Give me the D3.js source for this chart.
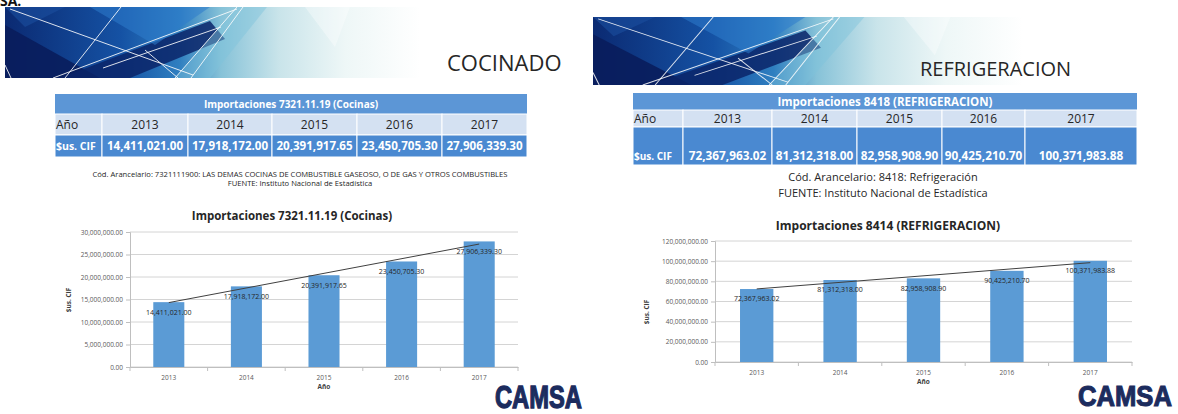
<!DOCTYPE html>
<html>
<head>
<meta charset="utf-8">
<script src="https://cdn.jsdelivr.net/npm/d3@7"></script>
<style>
  body { margin: 0; background: #fff; }
  svg { display: block; font-family: 'Open Sans', sans-serif; }
</style>
</head>
<body>
<div class="chart"></div>
<script>
// Importaciones por año (Sus. CIF)
const YEARS = ['2013', '2014', '2015', '2016', '2017']
const COCINAS_CIF = [14411021.00, 17918172.00, 20391917.65, 23450705.30, 27906339.30]
const REFRIG_CIF = [72367963.02, 81312318.00, 82958908.90, 90425210.70, 100371983.88]
const COCINAS_TICKS = [0, 5000000, 10000000, 15000000, 20000000, 25000000, 30000000]
const REFRIG_TICKS = [0, 20000000, 40000000, 60000000, 80000000, 100000000, 120000000]

const fmt = d3.format(',.2f')

const SLIDES = [
  {
    id: 'coc',
    values: COCINAS_CIF,
    ticks: COCINAS_TICKS,
    section: 'COCINADO',
    tableTitle: 'Importaciones  7321.11.19 (Cocinas)',
    codes: ['Cód. Arancelario: 7321111900:  LAS DEMAS COCINAS DE COMBUSTIBLE GASEOSO, O DE GAS Y OTROS COMBUSTIBLES',
            'FUENTE: Instituto  Nacional de Estadística'],
    chartTitle: 'Importaciones 7321.11.19  (Cocinas)',
    banner: { x: 5, y: 7, w: 415, h: 71 },
    sectionPos: { x: 447, y: 71, size: 22 },
    cols: [55, 102, 188, 272, 357, 442, 527],
    rows: [94, 114, 135, 157],
    tableFont: { head: 10, year: 12, value: 11.6, label: 10.5, valueBottom: false },
    codePos: { cx: 300, y: [177, 186], size: 7.6 },
    titlePos: { cx: 292, y: 220, size: 11.5 },
    plot: { x0: 130, x1: 518, top: 232, bottom: 367 },
    yTitle: { x: 71, y: 300 },
    logo: { x: 495, y: 408, w: 87, sy: 1.3 }
  },
  {
    id: 'ref',
    values: REFRIG_CIF,
    ticks: REFRIG_TICKS,
    section: 'REFRIGERACION',
    tableTitle: 'Importaciones 8418 (REFRIGERACION)',
    codes: ['Cód. Arancelario: 8418: Refrigeración',
            'FUENTE: Instituto  Nacional de Estadística'],
    chartTitle: 'Importaciones 8414 (REFRIGERACION)',
    banner: { x: 593, y: 17, w: 430, h: 68 },
    sectionPos: { x: 920, y: 76, size: 20 },
    cols: [633, 683, 772, 857, 942, 1025, 1137],
    rows: [93, 110, 127, 165],
    tableFont: { head: 11.5, year: 12, value: 11.8, label: 10, valueBottom: true },
    codePos: { cx: 883, y: [181, 197], size: 11 },
    titlePos: { cx: 888, y: 230, size: 12 },
    plot: { x0: 715, x1: 1132, top: 241, bottom: 362 },
    yTitle: { x: 649, y: 312 },
    logo: { x: 1078, y: 406, w: 94, sy: 1.12 }
  }
]

var svg = d3.select('.chart')
  .append('svg')
  .attr('width', 1178)
  .attr('height', 414)

var defs = svg.append('defs')

// bit of text cut off at the top-left corner
svg.append('text')
  .attr('x', 0).attr('y', 6)
  .attr('font-size', '14px').attr('font-weight', 'bold')
  .attr('fill', '#111')
  .text('SA.')

SLIDES.forEach(s => {
  drawBanner(s)
  drawTable(s)
  drawChart(s)
  drawLogo(s)
})

function drawBanner(s) {
  var b = s.banner
  var grad = defs.append('linearGradient').attr('id', 'grad-' + s.id)
  var stops = [[0, '#0b2a72'], [0.28, '#1552a4'], [0.42, '#2f7fc0'], [0.52, '#86c2d8'],
               [0.66, '#c9e4ea'], [0.82, '#eef7f7'], [1, '#ffffff']]
  stops.forEach(d => grad.append('stop').attr('offset', d[0]).attr('stop-color', d[1]))

  var g = svg.append('g').attr('transform', `translate(${b.x}, ${b.y}) scale(${b.w / 415}, ${b.h / 71})`)
  g.append('rect').attr('width', 415).attr('height', 71).attr('fill', `url(#grad-${s.id})`)

  // facets
  var facets = [
    { p: [[0, 18], [95, 71], [0, 71]], c: '#091d5c', o: 0.9 },
    { p: [[55, 71], [205, 14], [220, 32], [125, 71]], c: '#0a2569', o: 0.85 },
    { p: [[85, 0], [205, 0], [150, 38]], c: '#2d7ccc', o: 0.55 },
    { p: [[0, 0], [60, 0], [20, 20]], c: '#1a4f9e', o: 0.6 },
    { p: [[170, 71], [232, 0], [262, 0], [205, 71]], c: '#7fc3dc', o: 0.45 },
    { p: [[300, 0], [345, 0], [330, 40]], c: '#ffffff', o: 0.35 }
  ]
  g.selectAll('polygon').data(facets).enter().append('polygon')
    .attr('points', d => d.p.map(q => q.join(',')).join(' '))
    .attr('fill', d => d.c)
    .attr('opacity', d => d.o)

  // white lines
  var lines = [
    [5, 2, 188, 68], [60, 71, 116, 0], [48, 71, 232, 2], [140, 43, 173, 71],
    [98, 61, 216, 20], [170, 71, 232, 0], [186, 71, 238, 0], [0, 58, 6, 71]
  ]
  g.selectAll('line').data(lines).enter().append('line')
    .attr('x1', d => d[0]).attr('y1', d => d[1])
    .attr('x2', d => d[2]).attr('y2', d => d[3])
    .attr('stroke', '#ffffff').attr('stroke-width', 1).attr('opacity', 0.85)

  svg.append('text')
    .attr('x', s.sectionPos.x).attr('y', s.sectionPos.y)
    .attr('font-size', s.sectionPos.size + 'px')
    .attr('fill', '#262626')
    .text(s.section)
}

function drawTable(s) {
  var c = s.cols, r = s.rows, f = s.tableFont
  var g = svg.append('g')

  // title row
  g.append('rect')
    .attr('x', c[0]).attr('y', r[0])
    .attr('width', c[c.length - 1] - c[0]).attr('height', r[1] - r[0])
    .attr('fill', '#5c96d6')
  g.append('text')
    .attr('x', (c[0] + c[c.length - 1]) / 2).attr('y', (r[0] + r[1]) / 2)
    .attr('dy', '0.35em').attr('text-anchor', 'middle')
    .attr('font-size', f.head + 'px').attr('font-weight', 'bold')
    .attr('fill', '#fff')
    .text(s.tableTitle)

  var yearRow = ['Año'].concat(YEARS)
  var valueRow = ['$us. CIF'].concat(s.values.map(fmt))

  ;[[yearRow, 1, '#d4e1f2', '#262626', 'normal'], [valueRow, 2, '#4a89d1', '#ffffff', 'bold']].forEach(row => {
    var cells = g.selectAll(null).data(row[0]).enter()
    cells.append('rect')
      .attr('x', (d, i) => c[i]).attr('y', r[row[1]])
      .attr('width', (d, i) => c[i + 1] - c[i])
      .attr('height', r[row[1] + 1] - r[row[1]])
      .attr('fill', row[2])
      .attr('stroke', '#ffffff').attr('stroke-width', 1)
    cells.append('text')
      .attr('x', (d, i) => i == 0 ? c[0] + 1 : (c[i] + c[i + 1]) / 2)
      .attr('y', () => {
        if (row[1] == 2 && f.valueBottom) return r[3] - 5
        return (r[row[1]] + r[row[1] + 1]) / 2
      })
      .attr('dy', () => (row[1] == 2 && f.valueBottom) ? 0 : '0.35em')
      .attr('text-anchor', (d, i) => i == 0 ? 'start' : 'middle')
      .attr('font-size', (d, i) => {
        if (i == 0) return (row[1] == 1 ? f.year : f.label) + 'px'
        return (row[1] == 1 ? f.year : f.value) + 'px'
      })
      .attr('font-weight', row[4])
      .attr('fill', row[3])
      .text(d => d)
  })

  s.codes.forEach((t, i) => {
    svg.append('text')
      .attr('x', s.codePos.cx).attr('y', s.codePos.y[i])
      .attr('text-anchor', 'middle')
      .attr('font-size', s.codePos.size + 'px')
      .attr('fill', '#262626')
      .text(t)
  })
}

function drawChart(s) {
  var p = s.plot
  var g = svg.append('g')

  svg.append('text')
    .attr('x', s.titlePos.cx).attr('y', s.titlePos.y)
    .attr('text-anchor', 'middle')
    .attr('font-size', s.titlePos.size + 'px').attr('font-weight', 'bold')
    .attr('fill', '#262626')
    .text(s.chartTitle)

  var xScale = d3.scaleBand().domain(YEARS).range([p.x0, p.x1])
    .paddingInner(0.6).paddingOuter(0.3)
  var yScale = d3.scaleLinear().domain([0, d3.max(s.ticks)]).range([p.bottom, p.top])

  // gridlines
  g.selectAll('.grid').data(s.ticks).enter().append('line')
    .attr('x1', p.x0).attr('x2', p.x1)
    .attr('y1', d => yScale(d)).attr('y2', d => yScale(d))
    .attr('stroke', '#d4d4d4').attr('stroke-width', 1)

  // Y axis
  var yAxis = g.append('g')
    .attr('transform', `translate(${p.x0}, 0)`)
    .call(d3.axisLeft(yScale).tickValues(s.ticks).tickFormat(fmt).tickSize(4).tickPadding(3))
  yAxis.select('.domain').attr('stroke', '#bfbfbf')
  yAxis.selectAll('line').attr('stroke', '#bfbfbf')
  yAxis.selectAll('text').attr('font-size', '6.5px').attr('fill', '#595959')
    .attr('font-family', "'Open Sans', sans-serif")

  // X axis
  var xAxis = g.append('g')
    .attr('transform', `translate(0, ${p.bottom})`)
    .call(d3.axisBottom(xScale).tickSize(0).tickPadding(8))
  xAxis.select('.domain').attr('stroke', '#bfbfbf')
  xAxis.selectAll('text').attr('font-size', '6.5px').attr('fill', '#595959')
    .attr('font-family', "'Open Sans', sans-serif")
  g.selectAll('.xtick').data(d3.range(YEARS.length + 1)).enter().append('line')
    .attr('x1', i => p.x0 + i * xScale.step()).attr('x2', i => p.x0 + i * xScale.step())
    .attr('y1', p.bottom).attr('y2', p.bottom + 4)
    .attr('stroke', '#bfbfbf')

  // bars
  g.selectAll('.bar').data(s.values).enter().append('rect')
    .attr('x', (d, i) => xScale(YEARS[i]))
    .attr('y', d => yScale(d))
    .attr('width', xScale.bandwidth())
    .attr('height', d => yScale(0) - yScale(d))
    .attr('fill', '#5b9bd5')

  // linear trend line
  var n = s.values.length
  var mx = (n - 1) / 2
  var my = d3.mean(s.values)
  var slope = d3.sum(s.values, (d, i) => (i - mx) * (d - my)) / d3.sum(s.values, (d, i) => (i - mx) * (i - mx))
  var trend = [0, n - 1].map(i => [xScale(YEARS[i]) + xScale.bandwidth() / 2, yScale(my + slope * (i - mx))])
  g.append('path')
    .attr('d', d3.line()(trend))
    .attr('stroke', '#404040').attr('stroke-width', 1).attr('fill', 'none')

  // data labels
  g.selectAll('.lbl').data(s.values).enter().append('text')
    .attr('x', (d, i) => xScale(YEARS[i]) + xScale.bandwidth() / 2)
    .attr('y', d => yScale(d) + 10)
    .attr('dy', '0.35em')
    .attr('text-anchor', 'middle')
    .attr('font-size', '7px')
    .attr('fill', '#262626')
    .text(fmt)

  // axis titles
  svg.append('text')
    .attr('transform', `translate(${s.yTitle.x}, ${s.yTitle.y}) rotate(-90)`)
    .attr('text-anchor', 'middle')
    .attr('font-size', '6.5px').attr('font-weight', 'bold')
    .attr('fill', '#404040')
    .text('$us. CIF')

  svg.append('text')
    .attr('x', (p.x0 + p.x1) / 2).attr('y', p.bottom + 22)
    .attr('text-anchor', 'middle')
    .attr('font-size', '6.5px').attr('font-weight', 'bold')
    .attr('fill', '#404040')
    .text('Año')
}

function drawLogo(s) {
  // natural width of bold "CAMSA" is about 3.67em, stretch it vertically
  var size = s.logo.w / 3.67
  svg.append('text')
    .attr('transform', `translate(${s.logo.x}, ${s.logo.y}) scale(1, ${s.logo.sy})`)
    .attr('font-family', "'Liberation Sans', Arial, sans-serif")
    .attr('font-size', size + 'px').attr('font-weight', 'bold')
    .attr('fill', '#1c2c5e')
    .attr('stroke', '#1c2c5e').attr('stroke-width', 1)
    .text('CAMSA')
}
</script>
</body>
</html>
